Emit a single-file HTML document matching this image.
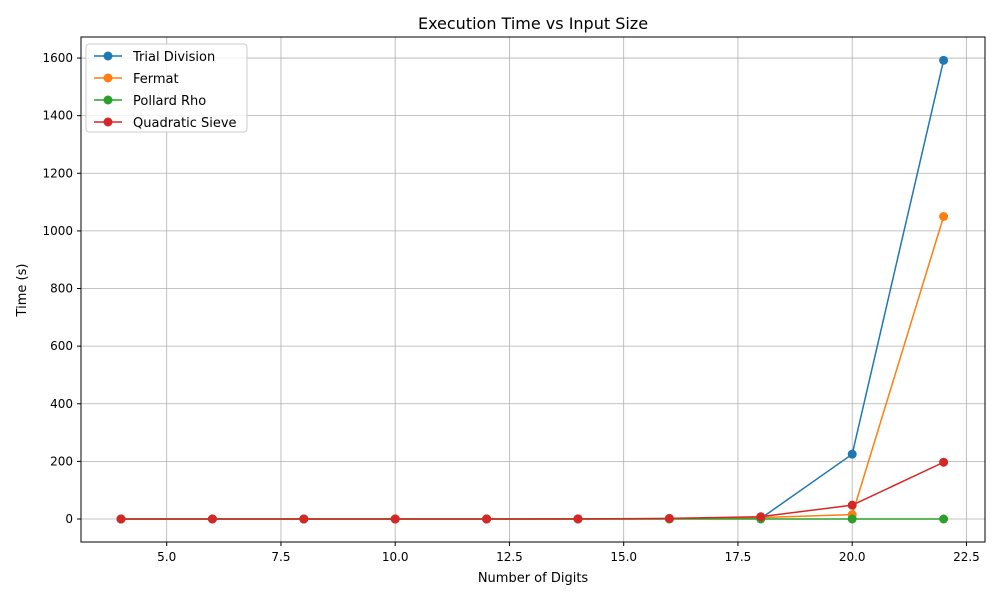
<!DOCTYPE html>
<html><head><meta charset="utf-8"><style>
body{margin:0;background:#fff;font-family:"Liberation Sans","DejaVu Sans",sans-serif;}
</style></head><body>
<svg id="chart" width="1000" height="600" xmlns="http://www.w3.org/2000/svg" font-family="DejaVu Sans, Liberation Sans, sans-serif">
<rect x="0" y="0" width="1000" height="600" fill="#fff"/>
<text x="533" y="29" text-anchor="middle" font-size="16">Execution Time vs Input Size</text>
<g id="grid"></g><g id="ticks"></g><g id="series"></g>
<rect x="81" y="37" width="904" height="505" fill="none" stroke="#000" stroke-width="1"/>
<text x="533" y="582" text-anchor="middle" font-size="13">Number of Digits</text>
<text transform="translate(26,290) rotate(-90)" text-anchor="middle" font-size="13">Time (s)</text>
<g id="legend"></g>
</svg>
<script>
const digits=[4,6,8,10,12,14,16,18,20,22];
const trialDivision=[0,0,0,0,0,0,1,2,225,1592];
const fermat=[0,0,0,0,0,0,0.5,5,15,1050];
const pollardRho=[0,0,0,0,0,0,0,0,0,0];
const quadraticSieve=[0,0,0,0,0,0.5,2,8,48,197];
const xTicks=[5,7.5,10,12.5,15,17.5,20,22.5];
const yTicks=[0,200,400,600,800,1000,1200,1400,1600];
const seriesNames=["Trial Division","Fermat","Pollard Rho","Quadratic Sieve"];
const seriesColors=["#1f77b4","#ff7f0e","#2ca02c","#d62728"];
const seriesData=[trialDivision,fermat,pollardRho,quadraticSieve];
const NS="http://www.w3.org/2000/svg";
const X=v=>121+(v-4)*45.7;
const Y=v=>519-v*0.2881;
function mk(t,a,p){const e=document.createElementNS(NS,t);for(const k in a)e.setAttribute(k,a[k]);p.appendChild(e);return e;}
const grid=document.getElementById('grid'),ticks=document.getElementById('ticks');
xTicks.forEach(v=>{
 const g=mk('line',{x1:X(v),x2:X(v),y1:37,y2:542,stroke:'#b0b0b0','stroke-width':0.8},grid);
 
 
 mk('line',{x1:X(v),x2:X(v),y1:542,y2:546,stroke:'#000'},ticks);
 const t=mk('text',{x:X(v),y:561,'text-anchor':'middle','font-size':12},ticks);
 t.textContent=v.toFixed(1);
 
 
});
yTicks.forEach(v=>{
 const g=mk('line',{x1:81,x2:985,y1:Y(v),y2:Y(v),stroke:'#b0b0b0','stroke-width':0.8},grid);
 
 
 mk('line',{x1:77,x2:81,y1:Y(v),y2:Y(v),stroke:'#000'},ticks);
 const t=mk('text',{x:73,y:Y(v)+4,'text-anchor':'end','font-size':12},ticks);
 t.textContent=v;
 
 
});
const sg=document.getElementById('series');
seriesData.forEach((d,i)=>{
 const g=mk('g',{},sg);
 
 
 mk('polyline',{points:d.map((v,j)=>X(digits[j])+','+Y(v)).join(' '),fill:'none',stroke:seriesColors[i],'stroke-width':1.5},g);
 d.forEach((v,j)=>{
  const c=mk('circle',{cx:X(digits[j]),cy:Y(v),r:4.5,fill:seriesColors[i]},g);
  
  
 });
});
const lg=document.getElementById('legend');


mk('rect',{x:86,y:44,width:161,height:88,rx:3,fill:'#fff','fill-opacity':0.8,stroke:'#ccc'},lg);
seriesNames.forEach((n,i)=>{
 const y=56+i*22;
 const e=mk('g',{},lg);
 
 
 mk('line',{x1:94,x2:122,y1:y,y2:y,stroke:seriesColors[i],'stroke-width':1.5},e);
 mk('circle',{cx:108,cy:y,r:4.5,fill:seriesColors[i]},e);
 const t=mk('text',{x:133,y:y+5,'font-size':13},e);
 t.textContent=n;
});
</script>
</body></html>
